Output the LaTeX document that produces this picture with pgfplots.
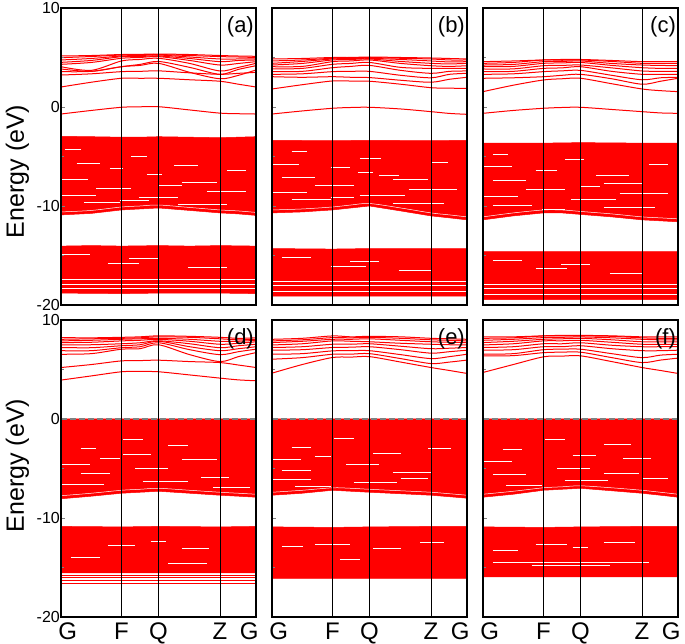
\documentclass[border=0pt]{standalone}
\usepackage{fontspec}
\setmainfont{Liberation Sans}
\usepackage{pgfplots}
\pgfplotsset{compat=1.18}

\newcommand\band[9]{\addplot[cb] coordinates {(0,#1)(0.155,#2)(0.31,#3)(0.405,#4)(0.5,#5)(0.66,#6)(0.815,#7)(0.91,#8)(1,#9)};}
\newcommand\wc[9]{\addplot[ws, smooth] coordinates {(0,#1)(0.155,#2)(0.31,#3)(0.405,#4)(0.5,#5)(0.66,#6)(0.815,#7)(0.91,#8)(1,#9)};}
\newcommand\ws[3]{\addplot[ws] coordinates {(#1,#3)(#2,#3)};}
\newcommand\rl[1]{\addplot[red, line width=0.9pt] coordinates {(0,#1)(1,#1)};}

\pgfplotsset{
  bandpanel/.style={
    scale only axis, width=195pt, height=297pt,
    xmin=0, xmax=1, ymin=-20, ymax=10,
    xtick={0.31,0.5,0.815},
    xticklabels={},
    xmajorgrids, major grid style={black, line width=0.8pt},
    xtick style={draw=none},
    ytick={-20,-10,0,10}, minor ytick={-15,-5,5},
    ytick pos=left, tick align=inside,
    major tick length=4pt, minor tick length=2.5pt,
    yticklabels={},
    axis line style={line width=1.1pt},
    axis on top,
    anchor=south west,
  },
  leftpanel/.style={
    yticklabels={-20,-10,0,10},
    yticklabel style={font=\fontsize{16}{18}\selectfont, inner sep=1pt},
    ylabel={Energy (eV)},
  },
  bottompanel/.style={
    xticklabels={F,Q,Z},
    extra x ticks={0.035,0.965},
    extra x tick labels={G,G},
    extra x tick style={grid=none, tick style={draw=none}},
    xticklabel style={font=\fontsize{24}{27}\selectfont, inner sep=0pt, yshift=-6pt},
  },
  cb/.style={red, line width=1pt, smooth, tension=0.5},
  blk/.style={fill=red, draw=red, line width=0.5pt},
  ws/.style={white, line width=0.5pt},
  zl/.style={gray, dashed, line width=1.6pt, dash pattern=on 6pt off 3pt},
}

\begin{document}
\begin{tikzpicture}
\path[use as bounding box] (0pt,0pt) rectangle (685pt,644pt);

% ---------------- (a)
\begin{axis}[bandpanel, leftpanel, at={(61pt,339pt)},
  every axis y label/.style={at={(rel axis cs:-0.223,0.45)}, rotate=90, anchor=center, font=\fontsize{25}{30}\selectfont}]
\band{-0.71}{-0.35}{-0.03}{0.02}{0.03}{-0.3}{-0.62}{-0.68}{-0.71}
\band{2.02}{2.5}{2.9}{2.9}{2.9}{2.75}{2.6}{2.3}{2.02}
\band{3.23}{3.35}{3.57}{3.6}{3.65}{3.45}{3.3}{3.4}{3.5}
\band{3.57}{3.6}{4.07}{4.2}{4.41}{3.5}{2.85}{3.2}{3.74}
\band{3.84}{3.6}{4.07}{4.3}{4.6}{4.0}{3.3}{3.8}{4.17}
\band{4.07}{3.7}{4.65}{4.8}{4.92}{4.4}{3.64}{4.0}{4.41}
\band{4.31}{4.5}{4.92}{5.0}{5.09}{4.7}{4.24}{4.4}{4.58}
\band{4.51}{4.7}{5.08}{5.1}{5.15}{4.9}{4.58}{4.7}{4.75}
\band{4.75}{4.9}{5.15}{5.2}{5.25}{5.05}{4.85}{4.85}{4.85}
\band{4.98}{5.1}{5.25}{5.28}{5.3}{5.2}{5.09}{5.05}{5.0}
\band{5.15}{5.2}{5.3}{5.32}{5.35}{5.3}{5.2}{5.15}{5.12}
\addplot[blk] coordinates {(0,-2.96)(0.155,-3.0)(0.31,-3.05)(0.405,-3.05)(0.5,-3.0)(0.66,-3.05)(0.815,-3.1)(0.91,-3.05)(1,-3.0)(1,-10.95)(0.91,-10.8)(0.815,-10.7)(0.66,-10.45)(0.5,-10.2)(0.405,-10.3)(0.31,-10.4)(0.155,-10.75)(0,-10.9)} --cycle;
\ws{0.02}{0.1}{-4.3}\ws{0.36}{0.44}{-5.0}\ws{0.08}{0.2}{-5.7}\ws{0.58}{0.7}{-5.9}
\ws{0.44}{0.52}{-6.8}\ws{0.0}{0.14}{-7.3}\ws{0.62}{0.8}{-7.6}\ws{0.18}{0.36}{-8.2}
\ws{0.75}{0.95}{-8.5}\ws{0.0}{0.18}{-8.9}\ws{0.4}{0.6}{-9.1}\ws{0.12}{0.3}{-9.6}\ws{0.6}{0.85}{-9.8}
\ws{0.25}{0.32}{-6.2}\ws{0.85}{0.95}{-6.4}\ws{0.5}{0.62}{-7.9}\ws{0.3}{0.45}{-9.4}
\wc{-10.6}{-10.45}{-10.1}{-10.0}{-9.9}{-10.15}{-10.4}{-10.5}{-10.65}
\addplot[blk] coordinates {(0,-14.05)(0.155,-14.0)(0.31,-14.05)(0.5,-14.0)(0.66,-14.05)(0.815,-14.0)(1,-14.05)(1,-18.85)(0.815,-18.8)(0.5,-18.8)(0.31,-18.85)(0,-18.8)} --cycle;
\ws{0.0}{0.15}{-14.9}\ws{0.35}{0.5}{-15.3}\ws{0.24}{0.4}{-15.8}\ws{0.65}{0.85}{-16.2}
\ws{0}{1}{-17.4}\ws{0}{1}{-17.9}\ws{0}{1}{-18.35}
\node[anchor=north east, font=\fontsize{22}{26}\selectfont, inner sep=1pt] at (rel axis cs:0.995,0.975) {(a)};
\end{axis}

% ---------------- (b)
\begin{axis}[bandpanel, at={(272pt,339pt)}]
\band{-0.71}{-0.4}{-0.13}{-0.05}{-0.03}{-0.2}{-0.47}{-0.65}{-0.74}
\band{1.82}{2.25}{2.63}{2.62}{2.6}{2.3}{1.95}{1.9}{1.88}
\band{3.06}{3.0}{3.06}{3.0}{2.97}{2.7}{2.5}{2.8}{3.0}
\band{3.3}{3.35}{3.57}{3.6}{3.6}{3.2}{2.95}{3.3}{3.4}
\band{3.57}{3.6}{3.97}{4.1}{4.2}{3.7}{3.4}{3.6}{3.64}
\band{3.84}{3.9}{4.31}{4.4}{4.5}{4.0}{3.9}{3.9}{3.9}
\band{4.07}{4.1}{4.58}{4.65}{4.75}{4.4}{4.17}{4.1}{4.17}
\band{4.24}{4.4}{4.75}{4.8}{4.85}{4.6}{4.41}{4.35}{4.41}
\band{4.41}{4.6}{4.85}{4.9}{4.92}{4.8}{4.65}{4.55}{4.58}
\band{4.65}{4.75}{4.92}{4.95}{5.0}{4.92}{4.85}{4.75}{4.75}
\band{4.85}{4.9}{5.0}{5.0}{5.05}{5.0}{4.95}{4.9}{4.85}
\addplot[blk] coordinates {(0,-3.37)(0.31,-3.4)(0.5,-3.37)(0.815,-3.4)(1,-3.37)(1,-11.4)(0.91,-11.2)(0.815,-11.0)(0.66,-10.5)(0.5,-10.0)(0.405,-10.2)(0.31,-10.4)(0.155,-10.6)(0,-10.7)} --cycle;
\ws{0.1}{0.18}{-4.5}\ws{0.45}{0.56}{-5.2}\ws{0.0}{0.14}{-5.8}\ws{0.3}{0.4}{-6.1}
\ws{0.44}{0.52}{-6.6}\ws{0.05}{0.22}{-7.1}\ws{0.62}{0.8}{-7.3}\ws{0.22}{0.42}{-7.9}
\ws{0.7}{0.95}{-8.3}\ws{0.0}{0.18}{-8.6}\ws{0.45}{0.68}{-8.9}\ws{0.1}{0.3}{-9.3}\ws{0.62}{0.88}{-9.7}
\ws{0.82}{0.9}{-5.6}\ws{0.55}{0.65}{-6.9}\ws{0.3}{0.42}{-9.1}
\wc{-10.4}{-10.3}{-10.1}{-9.9}{-9.75}{-10.2}{-10.7}{-10.9}{-11.1}
\addplot[blk] coordinates {(0,-14.3)(0.31,-14.35)(0.5,-14.3)(0.815,-14.3)(1,-14.3)(1,-19.1)(0.5,-19.1)(0,-19.1)} --cycle;
\ws{0.05}{0.2}{-15.2}\ws{0.4}{0.55}{-15.6}\ws{0.3}{0.48}{-16.1}\ws{0.65}{0.82}{-16.5}
\ws{0}{1}{-17.6}\ws{0}{1}{-18.05}\ws{0}{1}{-18.6}
\node[anchor=north east, font=\fontsize{22}{26}\selectfont, inner sep=1pt] at (rel axis cs:0.995,0.975) {(b)};
\end{axis}

% ---------------- (c)
\begin{axis}[bandpanel, at={(483pt,339pt)}]
\band{-0.64}{-0.35}{-0.13}{-0.05}{-0.03}{-0.25}{-0.47}{-0.6}{-0.64}
\band{1.55}{2.2}{2.73}{2.85}{2.9}{2.35}{1.82}{1.65}{1.55}
\band{2.9}{2.95}{3.06}{3.2}{3.3}{2.85}{2.3}{2.6}{2.9}
\band{3.3}{3.35}{3.57}{3.65}{3.7}{3.2}{2.75}{2.95}{3.0}
\band{3.57}{3.6}{3.9}{3.95}{4.07}{3.6}{3.3}{3.3}{3.3}
\band{3.84}{3.85}{4.17}{4.2}{4.24}{3.95}{3.64}{3.6}{3.6}
\band{4.07}{4.1}{4.41}{4.45}{4.5}{4.2}{3.97}{3.9}{3.9}
\band{4.24}{4.3}{4.58}{4.6}{4.65}{4.4}{4.24}{4.2}{4.17}
\band{4.41}{4.5}{4.75}{4.72}{4.75}{4.6}{4.41}{4.41}{4.41}
\band{4.58}{4.65}{4.75}{4.8}{4.8}{4.7}{4.58}{4.58}{4.58}
\addplot[blk] coordinates {(0,-3.64)(0.31,-3.65)(0.5,-3.6)(0.815,-3.65)(1,-3.64)(1,-11.6)(0.91,-11.5)(0.815,-11.4)(0.66,-11.1)(0.5,-10.85)(0.405,-10.7)(0.31,-10.7)(0.155,-11.0)(0,-11.4)} --cycle;
\ws{0.05}{0.13}{-4.8}\ws{0.42}{0.52}{-5.3}\ws{0.0}{0.15}{-6.0}\ws{0.27}{0.38}{-6.4}
\ws{0.58}{0.75}{-6.9}\ws{0.05}{0.22}{-7.4}\ws{0.62}{0.82}{-7.7}\ws{0.22}{0.42}{-8.3}
\ws{0.7}{0.95}{-8.7}\ws{0.0}{0.18}{-9.0}\ws{0.45}{0.68}{-9.3}\ws{0.05}{0.25}{-9.9}\ws{0.62}{0.88}{-10.1}
\ws{0.85}{0.95}{-5.8}\ws{0.5}{0.6}{-8.0}\ws{0.3}{0.42}{-10.3}
\wc{-11.1}{-10.7}{-10.4}{-10.4}{-10.55}{-10.8}{-11.1}{-11.2}{-11.3}
\addplot[blk] coordinates {(0,-14.6)(0.31,-14.62)(0.5,-14.6)(0.815,-14.6)(1,-14.6)(1,-19.45)(0.5,-19.45)(0,-19.45)} --cycle;
\ws{0.05}{0.2}{-15.5}\ws{0.4}{0.55}{-15.9}\ws{0.27}{0.43}{-16.3}\ws{0.65}{0.82}{-16.8}
\ws{0}{1}{-17.9}\ws{0}{1}{-18.35}\ws{0}{1}{-18.9}
\node[anchor=north east, font=\fontsize{22}{26}\selectfont, inner sep=1pt] at (rel axis cs:0.995,0.975) {(c)};
\end{axis}

% ---------------- (d)
\begin{axis}[bandpanel, leftpanel, bottompanel, at={(61pt,27pt)},
  every axis y label/.style={at={(rel axis cs:-0.223,0.51)}, rotate=90, anchor=center, font=\fontsize{25}{30}\selectfont}]
\band{3.93}{4.35}{4.77}{4.8}{4.77}{4.45}{4.13}{3.95}{3.86}
\band{5.2}{5.5}{5.87}{5.9}{5.94}{5.8}{5.7}{5.45}{5.2}
\band{6.54}{6.6}{7.05}{7.1}{7.5}{6.5}{5.8}{6.3}{6.71}
\band{6.9}{6.9}{7.2}{7.3}{7.7}{7.0}{6.5}{6.8}{7.05}
\band{7.22}{7.2}{7.4}{7.5}{7.85}{7.3}{6.9}{7.1}{7.3}
\band{7.48}{7.5}{7.6}{7.7}{7.9}{7.6}{7.2}{7.4}{7.55}
\band{7.72}{7.75}{7.89}{7.95}{8.05}{7.85}{7.55}{7.65}{7.8}
\band{7.89}{7.95}{8.05}{8.1}{8.15}{8.05}{7.85}{7.85}{7.95}
\band{8.05}{8.1}{8.15}{8.2}{8.3}{8.25}{8.1}{8.0}{8.05}
\band{8.22}{8.2}{8.25}{8.3}{8.4}{8.35}{8.25}{8.15}{8.2}
\addplot[blk] coordinates {(0,0)(1,0)(1,-7.9)(0.91,-7.8)(0.815,-7.7)(0.66,-7.5)(0.5,-7.3)(0.405,-7.4)(0.31,-7.5)(0.155,-7.8)(0,-8.06)} --cycle;
\ws{0.32}{0.42}{-2.0}\ws{0.1}{0.18}{-3.0}\ws{0.32}{0.46}{-3.6}\ws{0.62}{0.8}{-4.1}
\ws{0.0}{0.15}{-4.6}\ws{0.38}{0.55}{-5.0}\ws{0.1}{0.25}{-5.5}\ws{0.72}{0.86}{-5.9}
\ws{0.42}{0.65}{-6.3}\ws{0.0}{0.22}{-6.6}\ws{0.78}{0.97}{-6.9}\ws{0.55}{0.65}{-2.7}\ws{0.2}{0.3}{-4.0}
\wc{-7.75}{-7.5}{-7.2}{-7.1}{-7.0}{-7.2}{-7.4}{-7.5}{-7.6}
\addplot[blk] coordinates {(0,-10.85)(0.31,-10.9)(0.5,-10.85)(0.815,-10.9)(1,-10.85)(1,-15.55)(0.5,-15.55)(0,-15.55)} --cycle;
\ws{0.24}{0.38}{-12.75}\ws{0.46}{0.54}{-12.3}\ws{0.62}{0.76}{-13.1}\ws{0.05}{0.2}{-14.0}\ws{0.55}{0.75}{-14.6}
\rl{-15.8}\rl{-16.05}\rl{-16.3}\rl{-16.6}
\addplot[zl] coordinates {(0,0)(1,0)};
\node[anchor=north east, font=\fontsize{22}{26}\selectfont, inner sep=1pt] at (rel axis cs:0.995,0.975) {(d)};
\end{axis}

% ---------------- (e)
\begin{axis}[bandpanel, bottompanel, at={(272pt,27pt)}]
\band{4.63}{5.5}{6.21}{6.25}{6.3}{5.75}{5.2}{4.9}{4.6}
\band{6.04}{6.2}{6.54}{6.55}{6.6}{6.1}{5.6}{5.75}{5.95}
\band{6.54}{6.6}{6.88}{6.9}{6.9}{6.5}{6.1}{6.3}{6.54}
\band{6.95}{7.0}{7.22}{7.25}{7.3}{7.0}{6.65}{6.8}{6.95}
\band{7.22}{7.3}{7.55}{7.55}{7.6}{7.35}{7.1}{7.15}{7.22}
\band{7.48}{7.6}{7.89}{7.85}{7.8}{7.65}{7.55}{7.5}{7.48}
\band{7.72}{7.85}{8.05}{8.05}{8.1}{7.95}{7.8}{7.75}{7.72}
\band{7.89}{8.0}{8.22}{8.2}{8.25}{8.15}{8.0}{7.95}{7.89}
\band{8.05}{8.15}{8.39}{8.3}{8.35}{8.3}{8.15}{8.1}{8.05}
\addplot[blk] coordinates {(0,0)(1,0)(1,-8.0)(0.91,-7.85)(0.815,-7.7)(0.66,-7.55)(0.5,-7.4)(0.405,-7.3)(0.31,-7.2)(0.155,-7.5)(0,-7.7)} --cycle;
\ws{0.32}{0.42}{-1.9}\ws{0.1}{0.2}{-2.9}\ws{0.52}{0.66}{-3.5}\ws{0.0}{0.15}{-4.1}
\ws{0.38}{0.55}{-4.6}\ws{0.05}{0.2}{-5.2}\ws{0.62}{0.82}{-5.4}\ws{0.66}{0.8}{-5.95}
\ws{0.0}{0.2}{-6.1}\ws{0.42}{0.64}{-6.4}\ws{0.12}{0.3}{-6.8}\ws{0.8}{0.92}{-3.0}\ws{0.22}{0.3}{-3.8}
\wc{-7.4}{-7.2}{-6.95}{-7.0}{-7.1}{-7.25}{-7.4}{-7.55}{-7.7}
\addplot[blk] coordinates {(0,-10.9)(0.31,-10.95)(0.5,-10.9)(0.815,-10.85)(1,-10.85)(1,-16.1)(0.5,-16.1)(0,-16.1)} --cycle;
\ws{0.22}{0.4}{-12.7}\ws{0.52}{0.66}{-13.1}\ws{0.76}{0.88}{-12.5}\ws{0.05}{0.16}{-12.9}\ws{0.35}{0.45}{-14.2}
\addplot[zl] coordinates {(0,0)(1,0)};
\node[anchor=north east, font=\fontsize{22}{26}\selectfont, inner sep=1pt] at (rel axis cs:0.995,0.975) {(e)};
\end{axis}

% ---------------- (f)
\begin{axis}[bandpanel, bottompanel, at={(483pt,27pt)}]
\band{4.7}{5.5}{6.28}{6.35}{6.38}{5.8}{5.2}{4.9}{4.6}
\band{6.38}{6.4}{6.7}{6.75}{6.75}{6.2}{5.7}{5.95}{6.15}
\band{6.54}{6.6}{7.0}{7.05}{7.05}{6.6}{6.2}{6.45}{6.54}
\band{6.95}{7.0}{7.3}{7.3}{7.4}{7.1}{6.9}{6.9}{6.95}
\band{7.22}{7.3}{7.6}{7.6}{7.7}{7.45}{7.3}{7.3}{7.3}
\band{7.48}{7.6}{7.89}{7.9}{7.95}{7.75}{7.55}{7.55}{7.55}
\band{7.72}{7.85}{8.05}{8.1}{8.15}{8.0}{7.8}{7.8}{7.8}
\band{7.95}{8.05}{8.22}{8.25}{8.29}{8.2}{8.05}{8.0}{8.0}
\band{8.15}{8.2}{8.39}{8.4}{8.4}{8.35}{8.2}{8.15}{8.15}
\band{8.29}{8.3}{8.4}{8.45}{8.45}{8.4}{8.3}{8.3}{8.29}
\addplot[blk] coordinates {(0,0)(1,0)(1,-7.9)(0.91,-7.7)(0.815,-7.5)(0.66,-7.25)(0.5,-7.0)(0.405,-7.1)(0.31,-7.2)(0.155,-7.6)(0,-7.9)} --cycle;
\ws{0.32}{0.42}{-2.0}\ws{0.62}{0.76}{-2.6}\ws{0.1}{0.2}{-3.1}\ws{0.46}{0.58}{-3.7}
\ws{0.0}{0.15}{-4.3}\ws{0.72}{0.86}{-4.0}\ws{0.38}{0.55}{-5.0}\ws{0.62}{0.8}{-5.5}
\ws{0.05}{0.22}{-5.6}\ws{0.42}{0.64}{-6.2}\ws{0.12}{0.3}{-6.7}\ws{0.82}{0.95}{-6.0}
\wc{-7.6}{-7.3}{-6.95}{-6.85}{-6.75}{-6.95}{-7.2}{-7.4}{-7.6}
\addplot[blk] coordinates {(0,-10.9)(0.31,-10.95)(0.5,-10.9)(0.815,-10.85)(1,-10.85)(1,-15.95)(0.5,-15.95)(0,-15.95)} --cycle;
\ws{0.27}{0.43}{-12.7}\ws{0.46}{0.54}{-13.0}\ws{0.62}{0.78}{-12.4}\ws{0.05}{0.18}{-13.3}
\addplot[white, line width=1.3pt] coordinates {(0.05,-14.5)(0.85,-14.5)};
\ws{0.25}{0.65}{-14.8}
\addplot[zl] coordinates {(0,0)(1,0)};
\node[anchor=north east, font=\fontsize{22}{26}\selectfont, inner sep=1pt] at (rel axis cs:0.995,0.975) {(f)};
\end{axis}
\end{tikzpicture}
\end{document}
